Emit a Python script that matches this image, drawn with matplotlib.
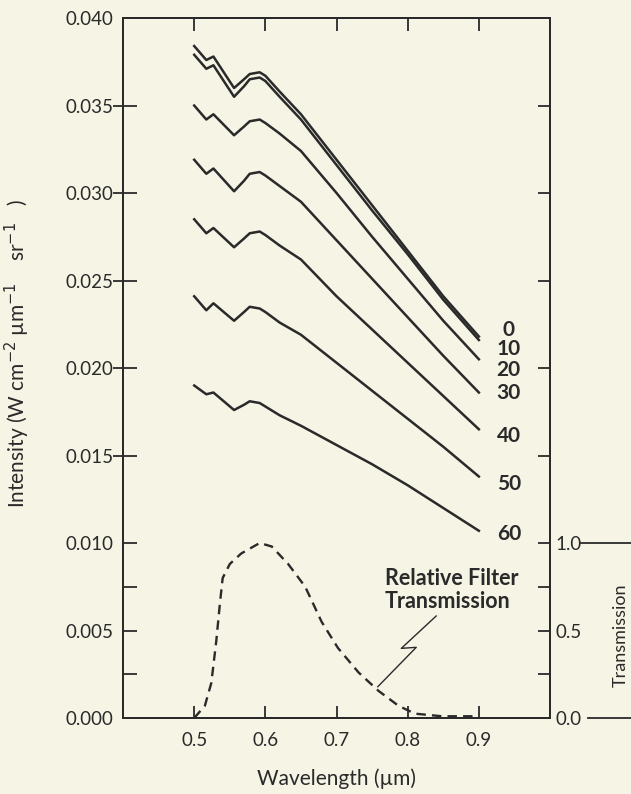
import numpy as np
import matplotlib
matplotlib.use('Agg')
import matplotlib.pyplot as plt

plt.rcParams['font.family'] = ['Lato', 'DejaVu Sans']

# wavelength grid (um) the intensity curves were read on
wavelength = [0.500, 0.517, 0.527, 0.556, 0.570, 0.578, 0.592, 0.600,
              0.620, 0.650, 0.700, 0.750, 0.800, 0.850, 0.900]

# intensity (W cm-2 um-1 sr-1), one curve per angle
angles = ['0', '10', '20', '30', '40', '50', '60']
intensity_0 = [0.0384, 0.0376, 0.0378, 0.0360, 0.0365, 0.0368, 0.0369, 0.0367,
               0.0358, 0.0345, 0.0319, 0.0293, 0.0267, 0.0241, 0.0218]
intensity_10 = [0.0379, 0.0371, 0.0373, 0.0355, 0.0361, 0.0365, 0.0366, 0.0364,
                0.0355, 0.0342, 0.0316, 0.0290, 0.0265, 0.0239, 0.0216]
intensity_20 = [0.0350, 0.0342, 0.0345, 0.0333, 0.0338, 0.0341, 0.0342, 0.0340,
                0.0334, 0.0324, 0.0300, 0.0275, 0.0251, 0.0227, 0.0205]
intensity_30 = [0.0319, 0.0311, 0.0314, 0.0301, 0.0307, 0.0311, 0.0312, 0.0310,
                0.0304, 0.0295, 0.0273, 0.0251, 0.0229, 0.0207, 0.0186]
intensity_40 = [0.0285, 0.0277, 0.0280, 0.0269, 0.0274, 0.0277, 0.0278, 0.0276,
                0.0270, 0.0262, 0.0241, 0.0222, 0.0203, 0.0184, 0.0165]
intensity_50 = [0.0241, 0.0233, 0.0237, 0.0227, 0.0232, 0.0235, 0.0234, 0.0232,
                0.0226, 0.0219, 0.0203, 0.0187, 0.0171, 0.0155, 0.0138]
intensity_60 = [0.0190, 0.0185, 0.0186, 0.0176, 0.0179, 0.0181, 0.0180, 0.0178,
                0.0173, 0.0167, 0.0156, 0.0145, 0.0133, 0.0120, 0.0107]
curves = [intensity_0, intensity_10, intensity_20, intensity_30,
          intensity_40, intensity_50, intensity_60]

# where the angle labels sit (intensity units)
label_y = [0.0222, 0.0211, 0.0199, 0.0186, 0.0161, 0.0134, 0.0105]

# relative filter transmission (0..1)
filter_wavelength = [0.500, 0.515, 0.524, 0.531, 0.536, 0.540, 0.550, 0.566,
                     0.592, 0.609, 0.632, 0.656, 0.679, 0.702, 0.731, 0.759,
                     0.787, 0.810, 0.848, 0.900]
filter_transmission = [0.00, 0.07, 0.20, 0.44, 0.65, 0.80, 0.88, 0.94,
                       1.00, 0.98, 0.88, 0.75, 0.55, 0.40, 0.26, 0.155,
                       0.07, 0.025, 0.01, 0.01]

# ticks
x_ticks = [0.5, 0.6, 0.7, 0.8, 0.9]
y_major = [0.000, 0.005, 0.010, 0.015, 0.020, 0.025, 0.030, 0.035, 0.040]
y_outer = [0.015, 0.020, 0.025, 0.030, 0.035]
y_half = [0.0025, 0.0075]
t_ticks = [0.0, 0.25, 0.5, 0.75, 1.0, 1.5, 2.0, 2.5, 3.0, 3.5]
t_labels = ['0.0', '', '0.5', '', '1.0', '', '', '', '', '']

# zig-zag pointer for the filter label
leader_x = [0.840, 0.791, 0.812, 0.758]
leader_y = [0.00583, 0.00398, 0.00404, 0.00179]

INK = '#2a2a2a'
BG = '#f6f4e5'

fig = plt.figure(figsize=(6.31, 7.94), dpi=100, facecolor=BG)
ax = fig.add_axes([0.195, 0.0957, 0.6767, 0.8816], facecolor=BG)

for vals in curves:
    ax.plot(wavelength, vals, color=INK, lw=1.8, solid_joinstyle='round')

ax.set_xlim(0.4, 1.0)
ax.set_ylim(0, 0.040)

ax.set_xticks(x_ticks)
ax.set_xticklabels(['%.1f' % v for v in x_ticks])
ax.tick_params(axis='x', direction='in', top=True, length=9, width=1.3,
               labelsize=13.5, pad=10, colors=INK)

# inward ticks in the lower (transmission) part, outward ones above it
ax.set_yticks(y_major)
ax.set_yticklabels(['%.3f' % v for v in y_major])
ax.tick_params(axis='y', which='major', direction='in', length=10,
               width=1.3, labelsize=13.5, pad=7, right=False, colors=INK)
for tick, loc in zip(ax.yaxis.get_major_ticks(), y_major):
    if loc > 0.0101:
        tick.tick1line.set_visible(False)

outer = ax.secondary_yaxis('left')
outer.set_yticks(y_outer)
outer.tick_params(direction='out', length=7, width=1.3, labelleft=False,
                  color=INK)
outer.spines['left'].set_visible(False)

inner = ax.secondary_yaxis('left')
inner.set_yticks(y_half)
inner.tick_params(direction='in', length=10, width=1.3, labelleft=False,
                  color=INK)
inner.spines['left'].set_visible(False)

for s in ax.spines.values():
    s.set_linewidth(1.4)
    s.set_color(INK)

ax.set_xlabel('Wavelength (µm)', fontsize=15, color=INK, labelpad=14)
ax.set_ylabel('Intensity (W cm$^{-2}$ µm$^{-1}$    sr$^{-1}$   )',
              fontsize=15, color=INK)
ax.yaxis.set_label_coords(-0.214, 0.52)

# transmission scale on the right
axt = ax.twinx()
axt.set_ylim(0, 4.0)
axt.plot(filter_wavelength, filter_transmission, color=INK, lw=1.7,
         ls=(0, (4, 2.6)))
axt.set_yticks(t_ticks)
axt.set_yticklabels(t_labels)
axt.tick_params(axis='y', direction='in', length=9, width=1.3,
                labelsize=13.5, pad=4, colors=INK)
for s in axt.spines.values():
    s.set_linewidth(1.4)
    s.set_color(INK)
axt.set_ylabel('Transmission', fontsize=13, color=INK)
axt.yaxis.set_label_coords(1.146, 0.118)
axt.axhline(1.0, xmin=1.072, xmax=1.2, color=INK, lw=1.3, clip_on=False)
axt.axhline(0.0, xmin=1.09, xmax=1.2, color=INK, lw=1.3, clip_on=False)

for name, y in zip(angles, label_y):
    ax.text(0.942, y, name, ha='center', va='center', fontsize=15,
            fontweight='bold', color=INK)

ax.text(0.7676, 0.0073, 'Relative Filter\nTransmission', ha='left',
        va='center', fontsize=15.5, fontweight='bold', color=INK,
        linespacing=1.1)
ax.plot(leader_x, leader_y, color=INK, lw=1.0)

fig.savefig('out.png', dpi=100, facecolor=BG)
